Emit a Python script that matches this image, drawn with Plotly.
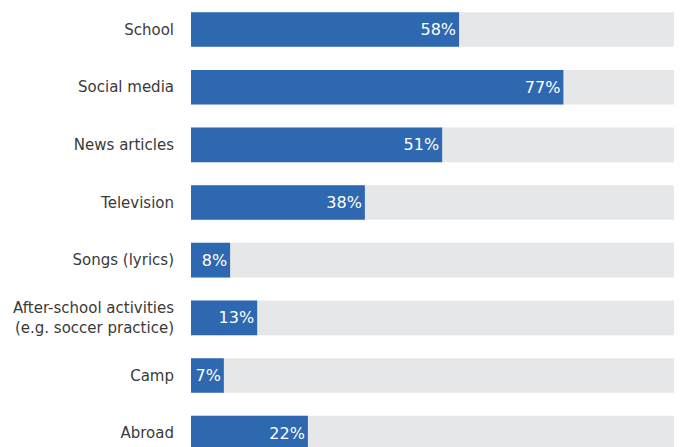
import plotly.graph_objects as go

categories = ["School", "Social media", "News articles", "Television", "Songs (lyrics)",
              "After-school activities<br>(e.g. soccer practice)", "Camp", "Abroad"]
# bar lengths as drawn in the picture (percent of the full grey track)
bar_values = [55.5, 77.1, 52.0, 36.0, 8.1, 13.7, 6.8, 24.2]
# printed labels
labels = ["58%", "77%", "51%", "38%", "8%", "13%", "7%", "22%"]
track = [100] * len(categories)

BLUE = "#2E68B1"
GREY = "#E6E7E8"

fig = go.Figure()
fig.add_trace(go.Bar(
    y=categories, x=track, orientation="h", marker=dict(color=GREY, line=dict(width=0)),
    width=0.6, hoverinfo="skip", showlegend=False))
fig.add_trace(go.Bar(
    y=categories, x=bar_values, orientation="h", marker=dict(color=BLUE, line=dict(width=0)),
    width=0.6, text=labels, textposition="inside", insidetextanchor="end",
    textfont=dict(color="white", size=16, family="DejaVu Sans"),
    showlegend=False, cliponaxis=False))

fig.update_layout(
    width=680, height=447,
    margin=dict(l=191, r=6, t=0, b=0),
    barmode="overlay",
    plot_bgcolor="white", paper_bgcolor="white",
    uniformtext=dict(minsize=16, mode="show"),
    font=dict(family="DejaVu Sans", color="#3a3a3a", size=14),
    xaxis=dict(range=[0, 100], visible=False, fixedrange=True),
    yaxis=dict(categoryorder="array", categoryarray=categories,
               range=[7.24, -0.512], autorange=False,
               showgrid=False, zeroline=False, showline=False,
               ticks="", ticklabelstandoff=16,
               tickfont=dict(size=15, color="#3a3a3a", family="DejaVu Sans")),
)

fig.write_html("out.html")
